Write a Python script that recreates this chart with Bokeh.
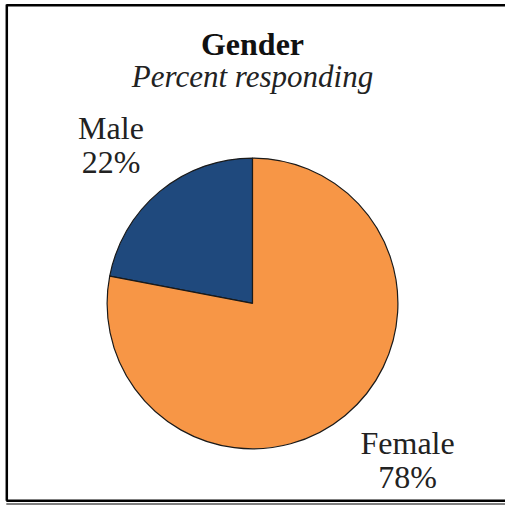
import math
from bokeh.plotting import figure
from bokeh.models import Range1d, ColumnDataSource
from bokeh.core.properties import value
from bokeh.embed import file_html
from bokeh.resources import INLINE

# ---- data ----
categories = ["Male", "Female"]
percents = [22, 78]
colors = ["#1F497D", "#F79646"]
title_text = "Gender"
subtitle_text = "Percent responding"

W, H = 505, 506
SX, SY = W / 521.0, H / 522.0
p = figure(width=W, height=H, output_backend="svg", toolbar_location=None,
           x_range=Range1d(0, W), y_range=Range1d(0, H),
           min_border=0, min_border_left=0, min_border_right=0,
           min_border_top=0, min_border_bottom=0)
p.axis.visible = False
p.grid.visible = False
p.outline_line_color = None
p.background_fill_color = "white"
p.border_fill_color = "white"

TXT_SHIFT = 10  # compensate baseline rendering offset


def X(ix):
    return ix * SX


def Y(iy):
    return H - iy * SY


# border frame (top, left, bottom)
p.segment(x0=[X(6), X(6.5), X(6)], y0=[Y(5), Y(4), Y(516)],
          x1=[W, X(6.5), W], y1=[Y(5), Y(516), Y(516)],
          line_color="black", line_width=2.5)
p.segment(x0=[X(6)], y0=[Y(519.5)], x1=[W], y1=[Y(519.5)],
          line_color="#555555", line_width=1.5)

# pie
total = sum(percents)
starts, ends = [], []
acc = 0.0
for v in percents:
    starts.append(math.pi / 2 + 2 * math.pi * acc / total)
    acc += v
    ends.append(math.pi / 2 + 2 * math.pi * acc / total)
src = ColumnDataSource(dict(start=starts, end=ends, color=colors,
                            x=[X(260)] * len(percents), y=[Y(312.5)] * len(percents)))
p.wedge(x="x", y="y", radius=150 * SX, start_angle="start", end_angle="end",
        direction="anticlock", fill_color="color", line_color="#1a1a1a",
        line_width=1.2, source=src)

serif = value("Liberation Serif")
p.text(x=[X(260)], y=[Y(55) + TXT_SHIFT], text=[title_text], text_font=serif,
       text_font_size="32px", text_font_style="bold", text_align="center",
       text_baseline="alphabetic", text_color="#111111")
p.text(x=[X(260)], y=[Y(89) + TXT_SHIFT], text=[subtitle_text], text_font=serif,
       text_font_size="31px", text_font_style="italic", text_align="center",
       text_baseline="alphabetic", text_color="#222222")

label_x = [X(114), X(420)]
name_y = [Y(142) + TXT_SHIFT, Y(467) + TXT_SHIFT]
pct_y = [Y(177) + TXT_SHIFT, Y(502) + TXT_SHIFT]
p.text(x=label_x, y=name_y, text=categories, text_font=serif,
       text_font_size="32px", text_align="center", text_baseline="alphabetic",
       text_color="#222222")
p.text(x=label_x, y=pct_y, text=[f"{v}%" for v in percents], text_font=serif,
       text_font_size="32px", text_align="center", text_baseline="alphabetic",
       text_color="#222222")

open("out.html", "w").write(file_html(p, INLINE))
